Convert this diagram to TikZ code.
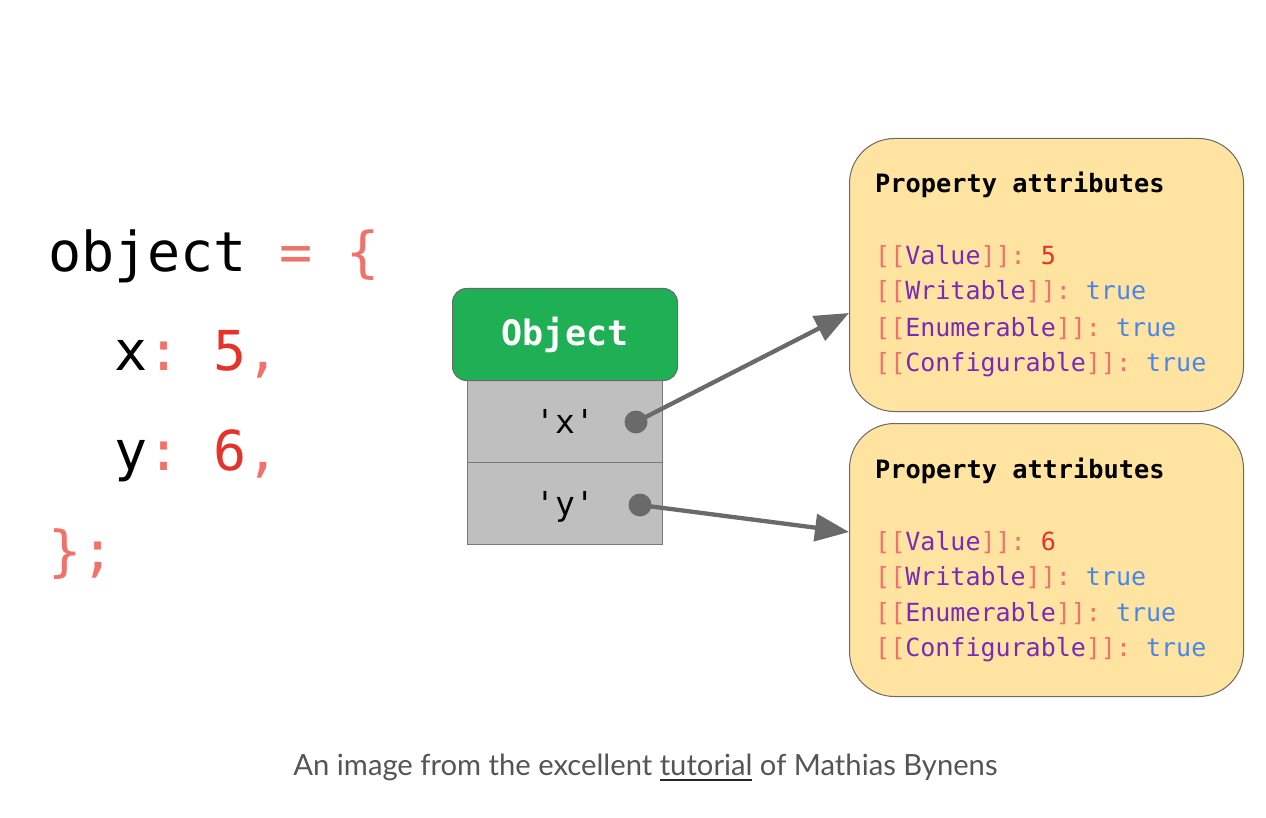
\documentclass[tikz,border=0pt]{standalone}
\usepackage{fontspec}
\setmonofont{DejaVu Sans Mono}
\newfontfamily\capfont{Lato}
\usetikzlibrary{arrows.meta}

\definecolor{punct}{HTML}{F2726B}
\definecolor{numred}{HTML}{E5322B}
\definecolor{propname}{HTML}{7B2AB8}
\definecolor{booltrue}{HTML}{4A86E8}
\definecolor{objgreen}{HTML}{1FAF55}
\definecolor{slotgray}{HTML}{BFBFBF}
\definecolor{edgegray}{HTML}{6A6A6A}
\definecolor{attrfill}{HTML}{FFE4A1}
\definecolor{capgray}{HTML}{555555}

% straight ASCII quote and a thick custom underline
\newcommand\sq{\char39\relax}
\newcommand\thickul[1]{\setbox0\hbox{#1}\rlap{\color{black!85}\rule[-6pt]{\wd0}{1.6pt}}\box0\relax}
% one attribute line: [[name]]: value
\newcommand\attr[3]{\textcolor{punct}{[[}\textcolor{propname}{#1}\textcolor{punct}{]]:} \textcolor{#2}{#3}}

\tikzset{
  code/.style={anchor=base west, inner sep=0pt, font=\ttfamily\fontsize{55}{60}\selectfont},
  objhead/.style={draw=edgegray, line width=1pt, fill=objgreen, rounded corners=14pt,
    minimum width=225pt, minimum height=92pt, anchor=north west},
  slotbox/.style={draw=edgegray!90, line width=1pt, fill=slotgray,
    minimum width=195pt, minimum height=82pt, anchor=north west},
  slottext/.style={anchor=base, inner sep=0pt, font=\ttfamily\fontsize{33}{36}\selectfont},
  dot/.style={circle, fill=edgegray, inner sep=0pt, minimum size=23pt},
  conn/.style={draw=edgegray, line width=4.3pt, -{Triangle[length=34pt, width=27pt]}},
  attrbox/.style={draw=edgegray, line width=1pt, fill=attrfill, rounded corners=45pt,
    minimum width=394pt, minimum height=273pt, anchor=north west},
  attrtext/.style={anchor=base west, inner sep=0pt, font=\ttfamily\fontsize{25}{30}\selectfont},
  attrhead/.style={attrtext, font=\ttfamily\bfseries\fontsize{25.3}{30}\selectfont},
}

\begin{document}
\begin{tikzpicture}[x=1pt, y=-1pt]
\path[use as bounding box, fill=white] (0,0) rectangle (1266,818);

% source code on the left
\node[code] (c1) at (48,272) {object \textcolor{punct}{= \{}};
\node[code] (c2) at (48,370) {\phantom{ob}x\textcolor{punct}{:} \textcolor{numred}{5}\textcolor{punct}{,}};
\node[code] (c3) at (48,470) {\phantom{ob}y\textcolor{punct}{:} \textcolor{numred}{6}\textcolor{punct}{,}};
\node[code] (c4) at (48,570) {\textcolor{punct}{\};}};

% object with its two property slots
\node[slotbox] (sx) at (467,380) {};
\node[slotbox] (sy) at (467,462) {};
\node[objhead] (obj) at (452,288)
  {\ttfamily\bfseries\fontsize{35}{40}\selectfont\color{white}Object};
\node[slottext] (tx) at (565,433) {\sq x\sq};
\node[slottext] (ty) at (565,515) {\sq y\sq};
\node[dot] (dx) at (636,422) {};
\node[dot] (dy) at (640,505) {};

% property attribute boxes
\node[attrbox] (a1) at (849,138) {};
\node[attrbox] (a2) at (849,423) {};

\node[attrhead] (h1) at (875,193) {Property attributes};
\node[attrtext] (v1) at (875,265) {\attr{Value}{numred}{5}};
\node[attrtext] (w1) at (875,300) {\attr{Writable}{booltrue}{true}};
\node[attrtext] (e1) at (875,336) {\attr{Enumerable}{booltrue}{true}};
\node[attrtext] (f1) at (875,371) {\attr{Configurable}{booltrue}{true}};

\node[attrhead] (h2) at (875,478) {Property attributes};
\node[attrtext] (v2) at (875,550) {\attr{Value}{numred}{6}};
\node[attrtext] (w2) at (875,585) {\attr{Writable}{booltrue}{true}};
\node[attrtext] (e2) at (875,621) {\attr{Enumerable}{booltrue}{true}};
\node[attrtext] (f2) at (875,656) {\attr{Configurable}{booltrue}{true}};

% connectors from the slots to their attribute boxes
\coordinate (t1) at (849,313);
\coordinate (t2) at (849,532);
\draw[conn] (dx.center) -- (t1);
\draw[conn] (dy.center) -- (t2);

% caption
\node[anchor=base, inner sep=0pt, text=capgray, font=\capfont\fontsize{29.2}{33}\selectfont] (cap) at (645.5,775)
  {An image from the excellent \thickul{tutorial} of Mathias Bynens};
\end{tikzpicture}
\end{document}
